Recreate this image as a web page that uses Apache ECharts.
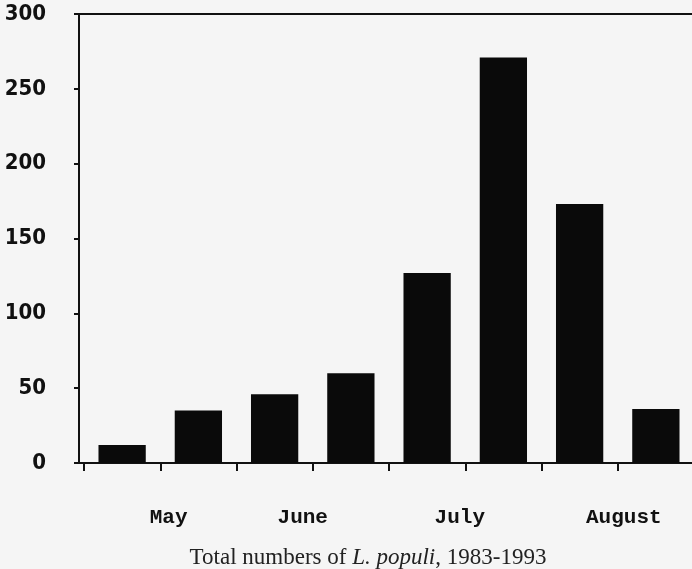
<!DOCTYPE html>
<html>
<head>
<meta charset="utf-8">
<script src="https://cdn.jsdelivr.net/npm/echarts@6/dist/echarts.min.js"></script>
<style>
  html, body { margin: 0; padding: 0; background: #f5f5f5; }
  #chart { width: 692px; height: 569px; }
</style>
</head>
<body>
<div id="chart"></div>
<script>
// bars, one per half-month period
const periods = ['1', '2', '3', '4', '5', '6', '7', '8'];
const counts = [12, 35, 46, 60, 127, 271, 173, 36];
// month labels and where they sit along the period axis (in bar units)
const monthLabels = ['May', 'June', 'July', 'August'];
const monthPositions = [1.17, 2.92, 4.97, 7.11];
const yTicks = [0, 50, 100, 150, 200, 250, 300];

const chart = echarts.init(document.getElementById('chart'));

const yMin = yTicks[0];
const yMax = yTicks[yTicks.length - 1];

const option = {
  backgroundColor: '#f5f5f5',
  animation: false,
  title: {
    text: 'Total numbers of {i|L. populi}, 1983-1993',
    left: 363,
    textAlign: 'center',
    top: 541,
    textStyle: {
      fontFamily: 'Liberation Serif',
      fontWeight: 'normal',
      fontSize: 23,
      color: '#222',
      rich: {
        i: { fontFamily: 'Liberation Serif', fontStyle: 'italic', fontSize: 23, color: '#222' }
      }
    }
  },
  grid: [
    { left: 79, right: 0, top: 14, bottom: 106, outerBoundsMode: 'none', containLabel: false },
    { left: 84, right: -2, top: 14, bottom: 106, outerBoundsMode: 'none', containLabel: false }
  ],
  xAxis: [
    {
      // frame bottom line + month names
      type: 'value',
      gridIndex: 0,
      position: 'bottom',
      min: 0,
      max: 8,
      axisLine: { show: true, lineStyle: { color: '#111', width: 2 } },
      axisTick: { show: false },
      splitLine: { show: false },
      axisLabel: {
        show: true,
        customValues: monthPositions,
        margin: 44,
        fontFamily: 'Liberation Mono',
        fontWeight: 'bold',
        fontSize: 21,
        color: '#111',
        formatter: function (v) {
          const idx = monthPositions.indexOf(v);
          return idx >= 0 ? monthLabels[idx] : '';
        }
      }
    },
    {
      // frame top line
      type: 'value',
      gridIndex: 0,
      position: 'top',
      min: 0,
      max: 8,
      axisLine: { show: true, lineStyle: { color: '#111', width: 2 } },
      axisTick: { show: false },
      axisLabel: { show: false },
      splitLine: { show: false }
    },
    {
      type: 'category',
      gridIndex: 1,
      data: periods,
      axisLine: { show: false },
      axisTick: { show: true, length: 8, lineStyle: { color: '#111', width: 2 } },
      axisLabel: { show: false },
      splitLine: { show: false }
    }
  ],
  yAxis: [
    {
      type: 'value',
      gridIndex: 0,
      min: yMin,
      max: yMax,
      interval: 50,
      axisLine: { show: true, lineStyle: { color: '#111', width: 2 } },
      axisTick: { show: true, length: 5, lineStyle: { color: '#111', width: 2 } },
      splitLine: { show: false },
      axisLabel: {
        margin: 33,
        padding: [6, 0, 0, 0],
        fontFamily: '"Liberation Sans Narrow", "DejaVu Sans Condensed", Roboto',
        fontWeight: 'bold',
        fontSize: 22,
        color: '#111'
      }
    },
    {
      type: 'value',
      gridIndex: 1,
      min: yMin,
      max: yMax,
      show: false
    }
  ],
  series: [
    {
      type: 'bar',
      xAxisIndex: 2,
      yAxisIndex: 1,
      data: counts,
      barCategoryGap: '38%',
      itemStyle: { color: '#0a0a0a' }
    }
  ]
};

chart.setOption(option);
</script>
</body>
</html>
